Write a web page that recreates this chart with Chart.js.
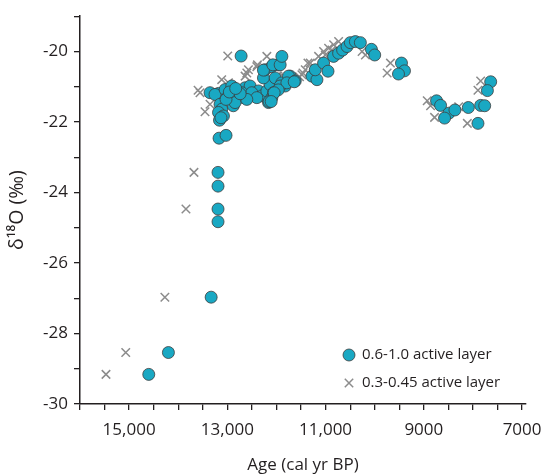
<!DOCTYPE html>
<html>
<head>
<meta charset="utf-8">
<script src="https://cdn.jsdelivr.net/npm/chart.js@4/dist/chart.umd.min.js"></script>
<style>
  html, body { margin: 0; padding: 0; background: #fff; }
  canvas { display: block; }
</style>
</head>
<body>
<canvas id="isoChart" width="542" height="476"></canvas>
<script>
// 0.6-1.0 active layer (circles)
const circleAge = [
  14600, 14200, 13330, 13190, 13190, 13190, 13190, 13169, 13027,
  12720, 13353, 13180, 13251, 13045, 12910, 12978, 13149, 13115, 13180, 13080, 13160, 13130,
  12878, 12776, 12673, 12571, 12639, 12537, 12435, 12367, 12298, 12196, 12129, 12265, 12231,
  12094, 11958, 12026, 11890, 11822, 11720, 12094, 12162, 12844, 12706, 12502, 12400, 12149,
  12061, 12265, 12073, 11925, 11890, 11925, 11755, 12604, 13027, 12740, 12960, 12830,
  11788, 11618, 11965, 12047, 12108, 11639,
  11278, 11176, 11210, 11041, 10951, 10837, 10735, 10653, 10563, 10496, 10394, 10292, 10067, 10000,
  9455, 9394, 9516,
  8741, 8659, 8490, 8578, 8367, 8094, 7843, 7761, 7898, 7639, 7706
];
const circleD18O = [
  -29.16, -28.54, -26.97, -24.83, -24.47, -23.82, -23.43, -22.46, -22.38,
  -20.13, -21.17, -21.19, -21.22, -21.08, -20.98, -21.26, -21.50, -21.64, -21.73, -21.83, -21.95, -21.88,
  -21.54, -21.26, -21.31, -21.26, -21.03, -20.98, -21.26, -21.12, -21.26, -21.12, -20.94, -20.75, -20.52,
  -20.43, -20.38, -20.75, -20.89, -20.98, -20.70, -21.31, -21.45, -21.45, -21.17, -21.17, -21.31, -21.42,
  -21.17, -20.53, -20.38, -20.38, -20.14, -20.98, -20.70, -21.36, -21.36, -21.20, -21.15, -21.05,
  -20.89, -20.84, -21.09, -21.17, -21.42, -20.86,
  -20.70, -20.80, -20.52, -20.33, -20.56, -20.14, -20.05, -19.96, -19.86, -19.75, -19.72, -19.75, -19.94, -20.10,
  -20.33, -20.55, -20.64,
  -21.40, -21.53, -21.75, -21.89, -21.66, -21.59, -21.53, -21.54, -22.04, -20.86, -21.11
];

// 0.3-0.45 active layer (crosses)
const crossAge = [
  15471, 15069, 14272, 13843, 13680,
  12992, 13557, 13596, 13455, 13353, 13115, 12978, 12604, 12400, 12196, 11958, 12571, 12388, 11992, 12639,
  11482, 11414, 11312, 11143, 11041, 10939, 10837, 10735, 11006, 10870, 11461, 11531, 11359, 11972,
  10257, 10190, 9680, 9747,
  8931, 8863, 8782, 8290, 8114, 7843, 7898
];
const crossD18O = [
  -29.16, -28.54, -26.97, -24.47, -23.43,
  -20.13, -21.17, -21.10, -21.71, -21.50, -20.80, -20.89, -20.61, -20.43, -20.14, -20.75, -20.52, -20.38, -20.70, -20.70,
  -20.66, -20.52, -20.33, -20.14, -20.00, -19.91, -19.81, -19.72, -20.10, -19.96, -20.61, -20.72, -20.33, -20.70,
  -20.00, -20.10, -20.33, -20.61,
  -21.40, -21.54, -21.87, -21.57, -22.04, -20.84, -21.10
];

const seriesNames = ['0.6-1.0 active layer', '0.3-0.45 active layer'];
const xTickValues = [16000, 15500, 15000, 14500, 14000, 13500, 13000, 12500, 12000, 11500,
                     11000, 10500, 10000, 9500, 9000, 8500, 8000, 7500, 7000];
const xLabelValues = [15000, 13000, 11000, 9000, 7000];
const xLabelTexts = ['15,000', '13,000', '11,000', '9000', '7000'];
const yLabelValues = [-20, -22, -24, -26, -28, -30];

const ink = '#231f20';
const font = 'Open Sans';
const teal = '#19a8c3';
const grey = '#8c8c8c';

// legend drawn inside the plot, bottom right
const cornerLegend = {
  id: 'cornerLegend',
  afterDatasetsDraw(chart) {
    const { ctx, chartArea } = chart;
    const x = chartArea.right - 177;
    let y = chartArea.bottom - 49;
    ctx.save();
    ctx.font = '15px "' + font + '"';
    ctx.textBaseline = 'middle';

    ctx.beginPath();
    ctx.arc(x, y, 6, 0, Math.PI * 2);
    ctx.fillStyle = teal;
    ctx.fill();
    ctx.lineWidth = 0.8;
    ctx.strokeStyle = '#3d3d3d';
    ctx.stroke();
    ctx.fillStyle = ink;
    ctx.fillText(seriesNames[0], x + 13, y);

    y += 28;
    const d = 4.2;
    ctx.beginPath();
    ctx.moveTo(x - d, y - d); ctx.lineTo(x + d, y + d);
    ctx.moveTo(x - d, y + d); ctx.lineTo(x + d, y - d);
    ctx.lineWidth = 1.5;
    ctx.strokeStyle = grey;
    ctx.stroke();
    ctx.fillText(seriesNames[1], x + 13, y);
    ctx.restore();
  }
};

const axisGrid = { drawOnChartArea: false, drawTicks: true, tickLength: 6, color: ink, lineWidth: 1.3 };

new Chart(document.getElementById('isoChart'), {
  type: 'scatter',
  data: {
    datasets: [{
      label: seriesNames[0],
      data: circleAge.map((a, i) => ({ x: a, y: circleD18O[i] })),
      pointStyle: 'circle',
      pointRadius: 6,
      pointHoverRadius: 6,
      backgroundColor: teal,
      borderColor: '#3d3d3d',
      borderWidth: 0.8
    }, {
      label: seriesNames[1],
      data: crossAge.map((a, i) => ({ x: a, y: crossD18O[i] })),
      pointStyle: 'crossRot',
      pointRadius: 6,
      pointHoverRadius: 6,
      borderColor: grey,
      borderWidth: 1.5
    }]
  },
  options: {
    responsive: false,
    animation: false,
    layout: { padding: { top: 13, right: 16, bottom: 0, left: 0 } },
    plugins: { legend: { display: false }, tooltip: { enabled: false } },
    scales: {
      x: {
        type: 'linear',
        reverse: true,
        min: 6920,
        max: 16000,
        grid: axisGrid,
        border: { color: ink, width: 1.5 },
        afterBuildTicks: s => { s.ticks = xTickValues.map(v => ({ value: v })); },
        ticks: {
          autoSkip: false,
          maxRotation: 0,
          padding: 10,
          color: ink,
          font: { family: font, size: 17 },
          callback: v => {
            const i = xLabelValues.indexOf(v);
            return i >= 0 ? xLabelTexts[i] : '';
          }
        },
        title: {
          display: true,
          text: 'Age (cal yr BP)',
          color: ink,
          font: { family: font, size: 17 },
          padding: { top: 4, bottom: 1 }
        },
        afterFit: s => {
          s.height = 72;
          s.paddingLeft = 0;
          s.paddingRight = 0;
        }
      },
      y: {
        min: -30,
        max: -19,
        grid: axisGrid,
        border: { color: ink, width: 1.5 },
        ticks: {
          stepSize: 1,
          autoSkip: false,
          padding: 6,
          color: ink,
          font: { family: font, size: 17 },
          callback: v => yLabelValues.includes(v) ? String(v) : ''
        },
        title: {
          display: true,
          text: 'δ¹⁸O (‰)',
          color: ink,
          font: { family: font, size: 19.5 },
          padding: { top: 6, bottom: 0 }
        },
        afterFit: s => { s.width = 80; }
      }
    }
  },
  plugins: [cornerLegend]
});
</script>
</body>
</html>
